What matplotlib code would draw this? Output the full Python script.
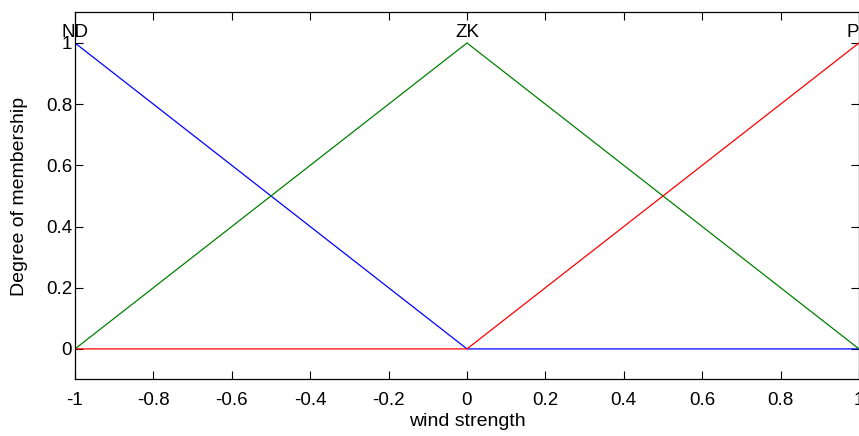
import matplotlib.pyplot as plt
import numpy as np

plt.rcParams['font.family'] = ['Liberation Sans', 'DejaVu Sans']

# membership functions for wind strength
x = [-1, 0, 1]
nd = [1, 0, 0]
zk = [0, 1, 0]
pd_ = [0, 0, 1]
names = ['ND', 'ZK', 'PD']
peaks = [-1, 0, 1]

fs = 13.5

fig = plt.figure(figsize=(8.59, 4.36), dpi=100)
ax = fig.add_axes([0.0873, 0.1296, 0.9127, 0.842])

ax.plot(x, nd, color=(0, 0, 1), lw=0.9)
ax.plot(x, zk, color=(0, 0.5, 0), lw=0.9)
ax.plot(x, pd_, color=(1, 0, 0), lw=0.9)

for n, p in zip(names, peaks):
    ax.text(p, 1.02, n, ha='center', va='baseline', fontsize=fs)

ax.set_xlim(-1, 1)
ax.set_ylim(-0.1, 1.1)
ax.set_xticks(np.arange(-1, 1.01, 0.2))
ax.set_xticklabels(['-1', '-0.8', '-0.6', '-0.4', '-0.2', '0', '0.2', '0.4', '0.6', '0.8', '1'])
ax.set_yticks([0, 0.2, 0.4, 0.6, 0.8, 1])
ax.set_yticklabels(['0', '0.2', '0.4', '0.6', '0.8', '1'])
ax.tick_params(direction='in', length=6, width=0.8, top=True, right=True,
               labelsize=fs)
ax.tick_params(axis='x', pad=9)
ax.tick_params(axis='y', pad=2)
for s in ax.spines.values():
    s.set_linewidth(0.9)

ax.set_xlabel('wind strength', fontsize=fs + 0.5, labelpad=3)
ax.set_ylabel('Degree of membership', fontsize=fs + 0.5, labelpad=13)

fig.savefig('out.png', dpi=100)
